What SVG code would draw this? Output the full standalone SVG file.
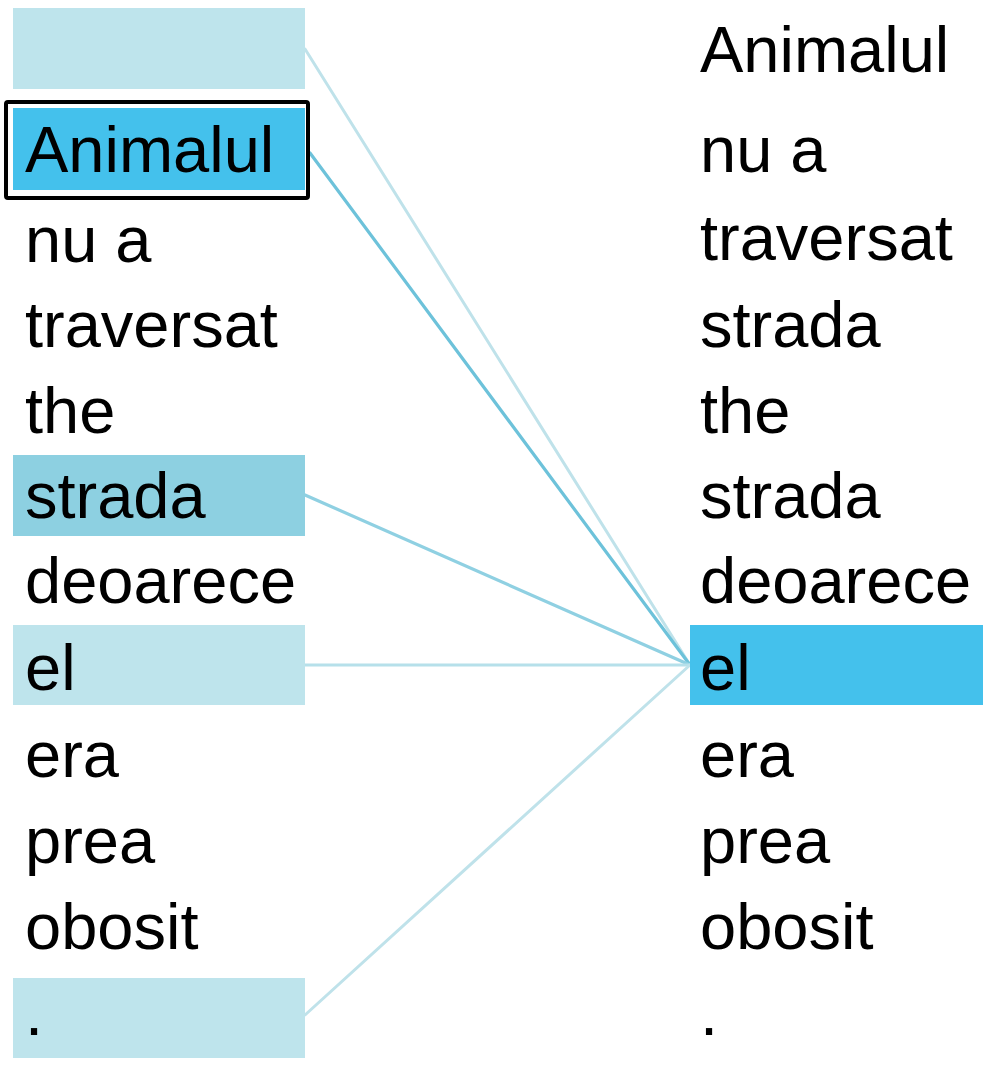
<svg xmlns="http://www.w3.org/2000/svg" width="992" height="1070" viewBox="0 0 992 1070">
<style>
text{font-family:"Liberation Sans",Arial,sans-serif;font-size:65px;fill:#000}
.light{fill:#bee4ec}
.mid{fill:#8dd0e1}
.strong{fill:#44c1ec}
.ln{fill:none;stroke-linecap:round}
</style>
<rect width="992" height="1070" fill="#ffffff"/>
<g id="connectors">
<line class="ln" x1="305" y1="49" x2="690" y2="665" stroke="#bfe2ea" stroke-width="3"/>
<line class="ln" x1="310" y1="153" x2="690" y2="665" stroke="#6dc2da" stroke-width="3.2"/>
<line class="ln" x1="305" y1="495" x2="690" y2="665" stroke="#8fd0e2" stroke-width="3.2"/>
<line class="ln" x1="305" y1="665" x2="690" y2="665" stroke="#b6e0ea" stroke-width="3"/>
<line class="ln" x1="305" y1="1015" x2="690" y2="665" stroke="#bfe2ea" stroke-width="3"/>
</g>
<g id="left">
<g id="L0"><rect class="light" x="13" y="8" width="292" height="81"/></g>
<g id="L1"><rect class="strong" x="13" y="108" width="292" height="82"/><rect x="6" y="102" width="302" height="96" rx="2" fill="none" stroke="#000" stroke-width="4"/><text x="25" y="172">Animalul</text></g>
<g id="L2"><text x="25" y="262">nu a</text></g>
<g id="L3"><text x="25" y="347">traversat</text></g>
<g id="L4"><text x="25" y="433">the</text></g>
<g id="L5"><rect class="mid" x="13" y="455" width="292" height="81"/><text x="25" y="518">strada</text></g>
<g id="L6"><text x="25" y="603">deoarece</text></g>
<g id="L7"><rect class="light" x="13" y="625" width="292" height="80"/><text x="25" y="690">el</text></g>
<g id="L8"><text x="25" y="777">era</text></g>
<g id="L9"><text x="25" y="863">prea</text></g>
<g id="L10"><text x="25" y="949">obosit</text></g>
<g id="L11"><rect class="light" x="13" y="978" width="292" height="80"/><text x="25" y="1035">.</text></g>
</g>
<g id="right">
<g id="R0"><text x="700" y="72">Animalul</text></g>
<g id="R1"><text x="700" y="172">nu a</text></g>
<g id="R2"><text x="700" y="260">traversat</text></g>
<g id="R3"><text x="700" y="347">strada</text></g>
<g id="R4"><text x="700" y="433">the</text></g>
<g id="R5"><text x="700" y="518">strada</text></g>
<g id="R6"><text x="700" y="603">deoarece</text></g>
<g id="R7"><rect class="strong" x="690" y="625" width="293" height="80"/><text x="700" y="690">el</text></g>
<g id="R8"><text x="700" y="777">era</text></g>
<g id="R9"><text x="700" y="863">prea</text></g>
<g id="R10"><text x="700" y="949">obosit</text></g>
<g id="R11"><text x="700" y="1035">.</text></g>
</g>
</svg>
